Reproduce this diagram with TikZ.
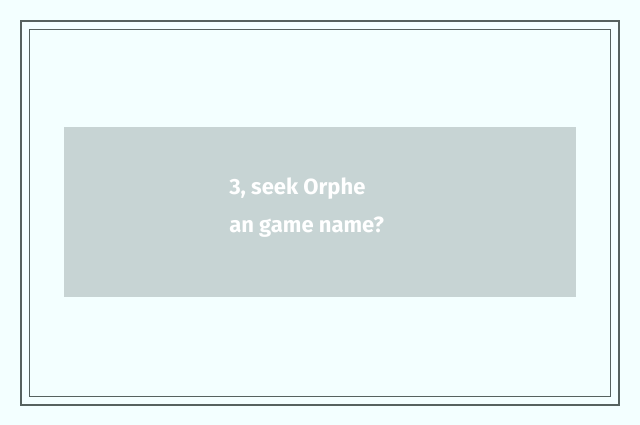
\documentclass[tikz,border=0pt]{standalone}
\usepackage{fontspec}
\setmainfont{Fira Sans}
\definecolor{bg}{HTML}{F3FFFF}
\definecolor{frame}{HTML}{56625F}
\definecolor{box}{HTML}{C7D4D4}
\begin{document}
\begin{tikzpicture}[x=0.75pt,y=-0.75pt,
  frameline/.style={draw=frame},
  label/.style={text=white,font=\fontsize{16.5}{28}\selectfont\bfseries,anchor=north west,inner sep=0pt,align=left}]
\fill[bg] (0,0) rectangle (640,425);
\useasboundingbox (0,0) rectangle (640,425);
\draw[frameline,line width=1.5pt] (21,21) rectangle (619,405);
\draw[frameline,line width=0.75pt] (29.5,29.5) rectangle (610.5,396.5);
\node[fill=box,minimum width=384pt,minimum height=127.5pt,inner sep=0pt,anchor=north west] (b) at (64,127) {};
\node[label] (t) at (229,178) {3, seek Orphe\\an game name?};
\end{tikzpicture}
\end{document}
